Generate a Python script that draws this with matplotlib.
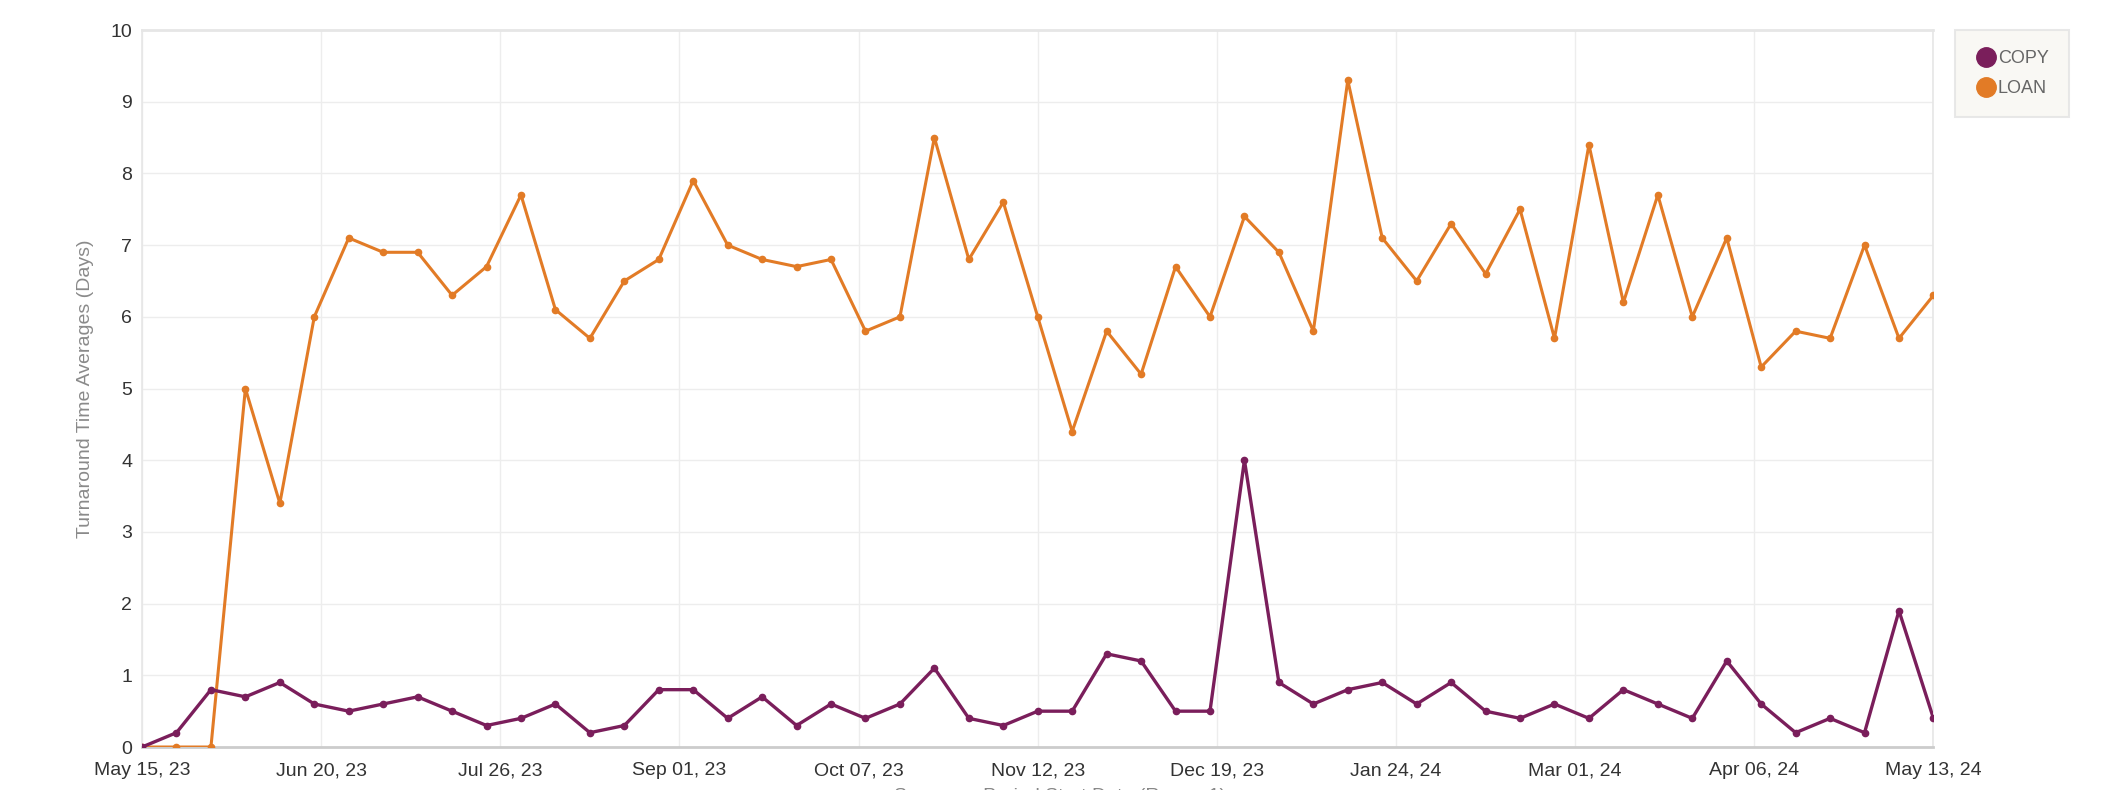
import matplotlib
matplotlib.use('Agg')
import matplotlib.pyplot as plt
import matplotlib.dates as mdates
from matplotlib.lines import Line2D
import numpy as np
import pandas as pd

plt.rcParams['font.family'] = ['Liberation Sans', 'DejaVu Sans']

# Weekly summary periods
weeks = pd.date_range('2023-05-15', periods=53, freq='7D')

copy_avg = [0, 0.2, 0.8, 0.7, 0.9, 0.6, 0.5, 0.6, 0.7, 0.5, 0.3, 0.4, 0.6, 0.2,
            0.3, 0.8, 0.8, 0.4, 0.7, 0.3, 0.6, 0.4, 0.6, 1.1, 0.4, 0.3, 0.5, 0.5,
            1.3, 1.2, 0.5, 0.5, 4.0, 0.9, 0.6, 0.8, 0.9, 0.6, 0.9, 0.5, 0.4, 0.6,
            0.4, 0.8, 0.6, 0.4, 1.2, 0.6, 0.2, 0.4, 0.2, 1.9, 0.4]

loan_avg = [0, 0, 0, 5.0, 3.4, 6.0, 7.1, 6.9, 6.9, 6.3, 6.7, 7.7, 6.1, 5.7,
            6.5, 6.8, 7.9, 7.0, 6.8, 6.7, 6.8, 5.8, 6.0, 8.5, 6.8, 7.6, 6.0, 4.4,
            5.8, 5.2, 6.7, 6.0, 7.4, 6.9, 5.8, 9.3, 7.1, 6.5, 7.3, 6.6, 7.5, 5.7,
            8.4, 6.2, 7.7, 6.0, 7.1, 5.3, 5.8, 5.7, 7.0, 5.7, 6.3]

x_tick_labels = ['May 15, 23', 'Jun 20, 23', 'Jul 26, 23', 'Sep 01, 23', 'Oct 07, 23',
                 'Nov 12, 23', 'Dec 19, 23', 'Jan 24, 24', 'Mar 01, 24', 'Apr 06, 24',
                 'May 13, 24']

copy_color = '#7a1e5b'
loan_color = '#e27b26'

fig = plt.figure(figsize=(21.2, 7.9), dpi=100)
ax = fig.add_axes([0.067, 0.0544, 0.845, 0.9076])

ax.plot(weeks, loan_avg, color=loan_color, lw=2.2, marker='o', ms=4.5, zorder=3)
ax.plot(weeks, copy_avg, color=copy_color, lw=2.4, marker='o', ms=4.5, zorder=4)

x0, x1 = mdates.date2num(weeks[0]), mdates.date2num(weeks[-1])
ax.set_xlim(x0, x1)
ax.set_ylim(0, 10)
ax.set_xticks(np.linspace(x0, x1, len(x_tick_labels)))
ax.set_xticklabels(x_tick_labels)
ax.set_yticks(range(0, 11))

ax.grid(True, color='#ededed', lw=1.0)
ax.set_axisbelow(True)
ax.tick_params(axis='both', length=0, labelsize=14, colors='#333333')
ax.tick_params(axis='x', pad=11)
ax.tick_params(axis='y', pad=7)

for side in ['top', 'left', 'right']:
    ax.spines[side].set_color('#e6e6e6')
    ax.spines[side].set_linewidth(1.2)
ax.spines['top'].set_linewidth(2.0)
ax.spines['bottom'].set_color('#cccccc')
ax.spines['bottom'].set_linewidth(2.0)

ax.set_ylabel('Turnaround Time Averages (Days)', fontsize=14, color='#8a8a8a', labelpad=12)

# x label mostly clipped by the bottom edge, as in the screenshot
fig.text(0.5, 0.002, 'Summary Period Start Date (Range 1)', ha='center', va='top',
         fontsize=14, color='#888888')

handles = [Line2D([], [], ls='none', marker='o', ms=14, color=copy_color),
           Line2D([], [], ls='none', marker='o', ms=14, color=loan_color)]
leg = fig.legend(handles, ['COPY', 'LOAN'], loc='upper left',
                 bbox_to_anchor=(0.922, 0.962), frameon=True, fontsize=13,
                 handletextpad=0.0, handlelength=1.3, borderpad=1.1,
                 labelspacing=0.75, fancybox=False, borderaxespad=0)
leg.get_frame().set_facecolor('#f8f7f2')
leg.get_frame().set_edgecolor('#e3e3e3')
leg.get_frame().set_linewidth(1.5)
for t in leg.get_texts():
    t.set_color('#666666')

fig.savefig('out.png', dpi=100)
